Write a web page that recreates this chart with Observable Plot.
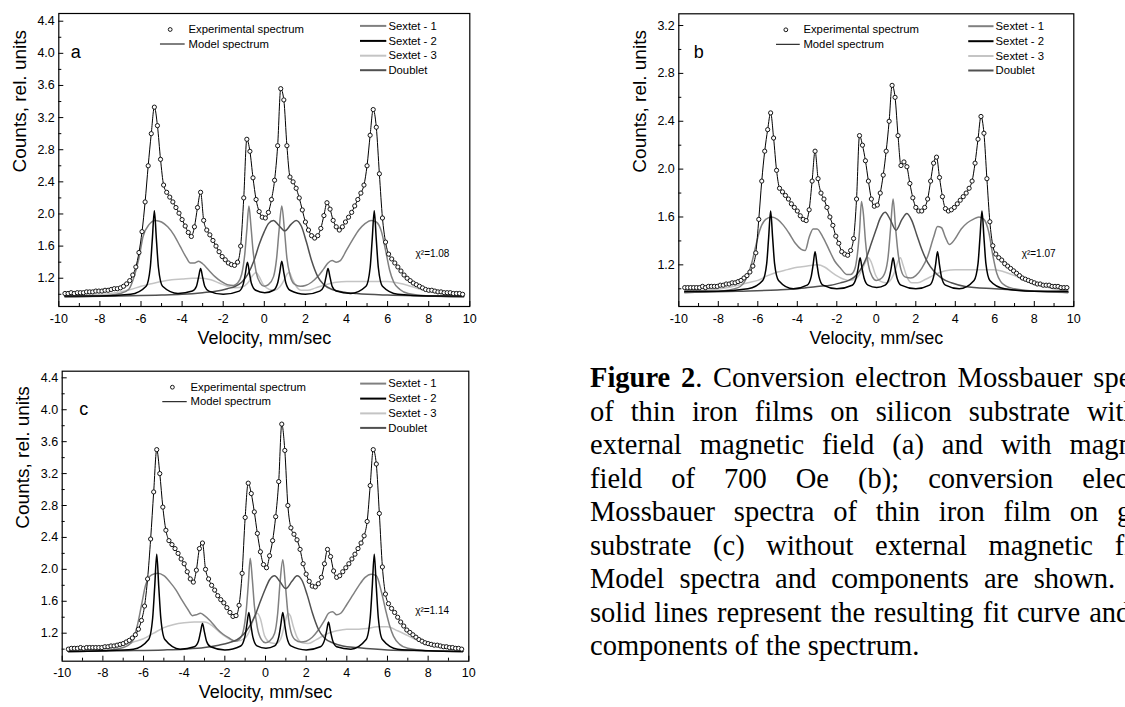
<!DOCTYPE html>
<html>
<head>
<meta charset="utf-8">
<script src="https://cdn.jsdelivr.net/npm/d3@7"></script>
<script src="https://cdn.jsdelivr.net/npm/@observablehq/plot@0.6"></script>
<style>
html,body{margin:0;padding:0;width:1125px;height:707px;overflow:hidden;background:#fff;}
.panel{position:absolute;}
#caption{position:absolute;left:590px;top:361px;width:584px;font-family:"Liberation Serif","Times New Roman",serif;font-size:28.5px;line-height:33.5px;color:#000;}
#caption div{text-align:justify;text-align-last:justify;}
#caption div.last{text-align:left;text-align-last:left;}
</style>
</head>
<body>
<div id="pa" class="panel" style="left:0px;top:0px"></div>
<div id="pb" class="panel" style="left:620px;top:0px"></div>
<div id="pc" class="panel" style="left:0px;top:357px"></div>
<div id="caption"></div>
<script>
// ---------- data ----------
const velocityStart = -9.7, velocityStep = 0.15;   // channel velocities of the experimental points

const expA = [1.01,1.01,1.02,1.01,1.02,1.02,1.02,1.03,1.03,1.03,
1.04,1.04,1.04,1.05,1.05,1.06,1.07,1.07,1.08,1.1,
1.13,1.17,1.24,1.34,1.52,1.78,2.15,2.6,3.0,3.33,
3.1,2.68,2.36,2.27,2.21,2.15,2.08,2.01,1.93,1.85,
1.77,1.72,1.84,2.08,2.27,1.92,1.8,1.74,1.67,1.6,
1.53,1.47,1.43,1.39,1.37,1.36,1.4,1.6,2.2,2.93,
2.78,2.45,2.18,2.03,1.96,1.95,2.02,2.18,2.42,2.85,
3.56,3.42,2.85,2.46,2.4,2.32,2.2,2.05,1.9,1.8,
1.73,1.7,1.73,1.82,1.98,2.14,2.06,1.92,1.84,1.8,
1.84,1.9,1.96,2.02,2.1,2.18,2.26,2.36,2.6,2.98,
3.3,3.08,2.5,1.95,1.65,1.5,1.44,1.39,1.34,1.29,
1.24,1.2,1.17,1.14,1.12,1.1,1.08,1.06,1.05,1.05,
1.04,1.03,1.03,1.02,1.02,1.02,1.01,1.01,1.01,1.0];

const expB = [1.01,1.01,1.01,1.01,1.01,1.01,1.02,1.01,1.02,1.02,
1.02,1.02,1.03,1.03,1.04,1.04,1.05,1.05,1.06,1.07,
1.09,1.11,1.14,1.19,1.3,1.58,1.9,2.15,2.33,2.47,
2.26,1.99,1.84,1.81,1.78,1.75,1.71,1.68,1.65,1.61,
1.58,1.57,1.66,1.9,2.15,1.92,1.8,1.75,1.68,1.6,
1.53,1.44,1.38,1.31,1.29,1.28,1.32,1.42,1.75,2.28,
2.2,2.07,1.9,1.75,1.69,1.7,1.8,1.95,2.15,2.4,
2.7,2.6,2.28,2.03,2.06,2.02,1.88,1.76,1.68,1.65,
1.65,1.68,1.75,1.9,2.05,2.1,1.93,1.77,1.67,1.65,
1.66,1.68,1.71,1.74,1.77,1.8,1.84,1.9,2.05,2.25,
2.44,2.3,1.92,1.56,1.36,1.29,1.26,1.24,1.21,1.19,
1.17,1.15,1.13,1.11,1.09,1.08,1.07,1.06,1.05,1.04,
1.04,1.03,1.03,1.03,1.02,1.02,1.02,1.01,1.01,1.01];

const expC = [1.0,1.01,1.01,1.01,1.02,1.01,1.02,1.02,1.02,1.02,
1.02,1.02,1.03,1.03,1.04,1.04,1.05,1.06,1.07,1.09,
1.11,1.14,1.18,1.25,1.36,1.54,1.88,2.38,2.97,3.5,
3.2,2.78,2.49,2.36,2.31,2.26,2.2,2.13,2.07,1.97,
1.88,1.84,1.99,2.26,2.33,2.0,1.88,1.8,1.74,1.67,
1.62,1.58,1.52,1.46,1.41,1.42,1.55,1.95,2.65,3.08,
2.95,2.72,2.45,2.22,2.06,2.02,2.17,2.36,2.66,3.1,
3.82,3.49,2.8,2.52,2.44,2.37,2.25,2.07,1.94,1.85,
1.79,1.78,1.82,1.9,2.07,2.25,2.16,1.98,1.9,1.92,
1.97,2.02,2.07,2.13,2.19,2.26,2.33,2.42,2.6,3.05,
3.5,3.32,2.7,2.03,1.69,1.57,1.51,1.46,1.4,1.34,
1.29,1.24,1.21,1.18,1.15,1.12,1.1,1.08,1.07,1.06,
1.05,1.05,1.04,1.03,1.03,1.02,1.02,1.01,1.01,1.0];

// Sextet - 1
const sextet1X = [-9.7,-8,-7,-6.6,-6.3,-6.1,-5.9,-5.6,-5.3,-5.0,-4.7,-4.4,-4.1,-3.8,-3.6,-3.4,-3.2,-3.0,-2.7,-2.4,
-2.1,-1.8,-1.5,-1.3,-1.1,-0.95,-0.85,-0.75,-0.65,-0.55,-0.4,-0.2,0,0.2,0.45,0.6,0.72,0.85,0.98,1.1,
1.25,1.45,1.75,2.0,2.3,2.6,2.9,3.1,3.3,3.5,3.7,4.0,4.3,4.6,4.9,5.2,5.45,5.7,5.9,6.1,6.3,6.6,7.0,8,9.7];
const sextet1A = [0.97,0.98,1.01,1.06,1.25,1.45,1.72,1.87,1.92,1.9,1.84,1.74,1.6,1.46,1.39,1.39,1.41,1.38,1.3,1.22,
1.16,1.12,1.11,1.14,1.25,1.5,1.8,2.1,1.85,1.55,1.28,1.14,1.1,1.12,1.22,1.45,1.8,2.1,1.8,1.45,
1.24,1.13,1.1,1.11,1.15,1.22,1.32,1.39,1.42,1.4,1.42,1.55,1.68,1.8,1.88,1.92,1.9,1.78,1.55,1.3,1.15,1.06,1.01,0.98,0.97];
const sextet1B = [0.97,0.98,1.01,1.08,1.22,1.36,1.49,1.58,1.6,1.58,1.53,1.46,1.38,1.33,1.32,1.43,1.5,1.5,1.43,1.33,
1.23,1.17,1.12,1.12,1.16,1.3,1.48,1.73,1.62,1.4,1.2,1.1,1.07,1.08,1.14,1.27,1.5,1.75,1.5,1.3,
1.16,1.1,1.09,1.11,1.17,1.27,1.43,1.52,1.51,1.43,1.37,1.42,1.5,1.55,1.58,1.6,1.58,1.47,1.28,1.13,1.06,1.02,1.0,0.98,0.97];
const sextet1C = [0.97,0.98,1.02,1.08,1.3,1.55,1.8,1.93,1.95,1.92,1.84,1.74,1.61,1.49,1.42,1.43,1.45,1.42,1.35,1.26,
1.19,1.14,1.1,1.12,1.22,1.48,1.8,2.14,1.88,1.55,1.27,1.12,1.08,1.1,1.2,1.45,1.85,2.12,1.8,1.45,
1.22,1.12,1.09,1.1,1.15,1.24,1.36,1.45,1.47,1.43,1.45,1.56,1.68,1.8,1.9,1.94,1.92,1.72,1.5,1.3,1.16,1.06,1.01,0.98,0.97];

// Sextet - 2
const sextet2X = [-9.7,-8,-6.5,-5.75,-5.55,-5.45,-5.35,-5.25,-5.15,-4.95,-4.2,
-3.5,-3.3,-3.2,-3.1,-3.0,-2.9,-2.7,-2.0,
-1.22,-1.02,-0.92,-0.82,-0.72,-0.62,-0.42,0.02,
0.45,0.65,0.75,0.85,0.95,1.05,1.25,2.0,
2.7,2.9,3.0,3.1,3.2,3.3,3.5,4.2,
4.95,5.15,5.25,5.35,5.45,5.55,5.75,6.5,8,9.7];
const sextet2A = [0.98,0.98,1.0,1.1,1.33,1.68,2.04,1.68,1.33,1.1,1.01,
1.04,1.1,1.21,1.32,1.21,1.1,1.04,1.0,
1.04,1.13,1.26,1.4,1.26,1.13,1.05,1.02,
1.05,1.14,1.27,1.41,1.27,1.14,1.05,1.0,
1.04,1.1,1.21,1.32,1.21,1.1,1.04,1.01,
1.1,1.33,1.68,2.04,1.68,1.33,1.1,1.0,0.98,0.98];
const sextet2B = [0.98,0.98,1.0,1.07,1.21,1.43,1.65,1.43,1.21,1.07,1.0,
1.03,1.1,1.2,1.31,1.2,1.1,1.03,1.0,
1.03,1.09,1.17,1.26,1.17,1.09,1.03,1.01,
1.03,1.09,1.17,1.26,1.17,1.09,1.03,1.0,
1.03,1.1,1.2,1.31,1.2,1.1,1.03,1.0,
1.07,1.21,1.43,1.65,1.43,1.21,1.07,1.0,0.98,0.98];
const sextet2C = [0.97,0.98,1.0,1.12,1.39,1.78,2.19,1.78,1.39,1.12,1.0,
1.03,1.1,1.21,1.32,1.21,1.1,1.03,0.99,
1.04,1.15,1.3,1.46,1.3,1.15,1.04,1.01,
1.04,1.15,1.3,1.46,1.3,1.15,1.04,0.99,
1.03,1.11,1.22,1.34,1.22,1.11,1.03,1.0,
1.12,1.39,1.78,2.19,1.78,1.39,1.12,1.0,0.98,0.97];

// Sextet - 3
const sextet3X = [-9.7,-8.5,-7.5,-7,-6.5,-6,-5.5,-5,-4.5,-4,-3.5,-3,-2.6,-2.2,-1.8,-1.4,-1.0,-0.75,-0.55,-0.4,
-0.25,-0.05,0.25,0.5,0.75,0.95,1.1,1.22,1.35,1.55,1.8,2.1,2.5,3,3.5,4,4.5,5,5.5,6,6.5,7,7.5,8,8.5,9,9.7];
const sextet3A = [0.98,0.99,1.01,1.03,1.06,1.1,1.13,1.16,1.18,1.19,1.2,1.2,1.18,1.14,1.1,1.08,1.1,1.16,1.24,1.27,
1.22,1.12,1.06,1.05,1.09,1.17,1.25,1.27,1.2,1.1,1.05,1.05,1.08,1.12,1.15,1.16,1.16,1.16,1.16,1.16,1.14,1.11,1.07,1.04,1.02,1.0,0.98];
const sextet3B = [0.98,0.99,1.01,1.03,1.05,1.07,1.11,1.14,1.16,1.18,1.19,1.2,1.18,1.13,1.09,1.07,1.09,1.15,1.22,1.26,
1.22,1.12,1.06,1.05,1.08,1.15,1.23,1.26,1.2,1.1,1.05,1.05,1.08,1.12,1.15,1.16,1.16,1.16,1.16,1.16,1.14,1.11,1.07,1.04,1.02,1.0,0.98];
const sextet3C = [0.98,0.99,1.02,1.05,1.09,1.13,1.2,1.27,1.31,1.33,1.34,1.34,1.29,1.2,1.13,1.1,1.14,1.25,1.4,1.45,
1.38,1.17,1.08,1.07,1.13,1.32,1.45,1.42,1.3,1.15,1.08,1.07,1.12,1.19,1.23,1.25,1.25,1.26,1.28,1.28,1.23,1.17,1.11,1.07,1.04,1.01,0.99];

// Doublet
const doubletX = [-9.7,-7,-5,-4,-3,-2.3,-1.8,-1.4,-1.1,-0.8,-0.5,-0.25,0,0.2,0.45,0.7,1.0,1.3,1.55,1.8,2.05,2.3,2.6,2.9,3.3,3.8,4.5,6,8,9.7];
const doubletA = [0.97,0.98,0.99,1.0,1.02,1.04,1.07,1.1,1.15,1.25,1.42,1.62,1.78,1.88,1.92,1.86,1.79,1.87,1.92,1.85,1.65,1.42,1.22,1.12,1.06,1.03,1.01,0.99,0.98,0.97];
const doubletB = [0.97,0.98,0.99,1.0,1.02,1.03,1.05,1.07,1.1,1.16,1.26,1.38,1.5,1.59,1.64,1.58,1.49,1.58,1.63,1.57,1.45,1.33,1.22,1.15,1.09,1.05,1.02,1.0,0.98,0.97];
const doubletC = [0.97,0.98,0.99,1.0,1.02,1.05,1.08,1.12,1.18,1.28,1.43,1.6,1.76,1.87,1.92,1.85,1.76,1.85,1.92,1.86,1.68,1.46,1.25,1.14,1.08,1.04,1.02,0.99,0.98,0.97];

// ticks, labels
const xMajorTicks = [-10,-8,-6,-4,-2,0,2,4,6,8,10];
const xMinorTicks = [-9,-7,-5,-3,-1,1,3,5,7,9];
const yMajorTicksAC = [1.2,1.6,2.0,2.4,2.8,3.2,3.6,4.0,4.4];
const yMinorTicksAC = [1.0,1.4,1.8,2.2,2.6,3.0,3.4,3.8,4.2];
const yMajorTicksB = [1.2,1.6,2.0,2.4,2.8,3.2];
const yMinorTicksB = [1.0,1.4,1.8,2.2,2.6,3.0];
const legendLeftLabels = ["Experimental spectrum", "Model spectrum"];
const componentLabels = ["Sextet - 1", "Sextet - 2", "Sextet - 3", "Doublet"];
const panelLetters = ["a", "b", "c"];
const chiLabels = ["χ²=1.08", "χ²=1.07", "χ²=1.14"];
const xAxisTitle = "Velocity, mm/sec";
const yAxisTitle = "Counts, rel. units";

const captionLines = [
  "<b>Figure 2</b>. Conversion electron Mossbauer spectra",
  "of thin iron films on silicon substrate without",
  "external magnetic field (a) and with magnetic",
  "field of 700 Oe (b); conversion electron",
  "Mossbauer spectra of thin iron film on glass",
  "substrate (c) without external magnetic field.",
  "Model spectra and components are shown. The",
  "solid lines represent the resulting fit curve and the",
  "components of the spectrum."
];

// ---------- drawing ----------
const compColors = ["#808080", "#000000", "#c4c4c4", "#505050"];
const font = "'Liberation Sans', Arial, sans-serif";
const zip = (xs, ys) => xs.map((x, i) => ({x, y: ys[i]}));

function makePanel(p) {
  const fw = p.width - p.ml - p.mr, fh = p.height - p.mt - p.mb;
  const [y0, y1] = p.yDomain;
  const X = px => -10 + px / fw * 20;
  const Y = py => y1 - py / fh * (y1 - y0);
  const perPxY = (y1 - y0) / fh, perPxX = 20 / fw;
  const expData = p.exp.map((v, i) => ({x: velocityStart + velocityStep * i, y: v}));
  const comps = [
    {data: zip(sextet3X, p.s3), color: compColors[2]},
    {data: zip(sextet1X, p.s1), color: compColors[0]},
    {data: zip(doubletX, p.d), color: compColors[3]},
    {data: zip(sextet2X, p.s2), color: compColors[1]}
  ];
  const rowsR = [12.4, 27.4, 42.2, 56.7];
  const legendLines = componentLabels.map((t, i) => ({x1: X(0.734 * fw), x2: X(0.798 * fw), y: Y(rowsR[i]), color: compColors[i], t, tx: X(0.802 * fw)}));
  const marks = [
    ...comps.map(c => Plot.line(c.data, {x: "x", y: "y", stroke: c.color, strokeWidth: 1.5, curve: "monotone-x"})),
    Plot.line(expData, {x: "x", y: "y", stroke: "#000", strokeWidth: 1, curve: "monotone-x"}),
    Plot.dot(expData, {x: "x", y: "y", r: 2.1, stroke: "#151515", strokeWidth: 1, fill: "#fff"}),
    Plot.frame({stroke: "#000", strokeWidth: 1.2}),
    Plot.ruleX(xMajorTicks, {x: d => d, y1: y0, y2: y0 + 5 * perPxY, stroke: "#000", strokeWidth: 1}),
    Plot.ruleX(xMinorTicks, {x: d => d, y1: y0, y2: y0 + 3 * perPxY, stroke: "#000", strokeWidth: 1}),
    Plot.ruleY(p.yMajor, {y: d => d, x1: -10, x2: -10 + 5 * perPxX, stroke: "#000", strokeWidth: 1}),
    Plot.ruleY(p.yMinor, {y: d => d, x1: -10, x2: -10 + 3 * perPxX, stroke: "#000", strokeWidth: 1}),
    Plot.text(xMajorTicks, {x: d => d, y: y0, dy: 12, text: d => String(d), fontSize: 12.5, fill: "#000"}),
    Plot.text(p.yMajor, {x: -10, y: d => d, dx: -4, text: d => d.toFixed(1), textAnchor: "end", fontSize: 12.5, fill: "#000"}),
    Plot.text([xAxisTitle], {frameAnchor: "bottom", dy: 37, text: d => d, fontSize: 18, fill: "#000"}),
    Plot.text([yAxisTitle], {frameAnchor: "left", dx: -39, dy: 12.5, rotate: -90, text: d => d, fontSize: 19, fill: "#000"}),
    // legend, left block
    Plot.dot([{x: X(0.271 * fw), y: Y(16)}], {x: "x", y: "y", r: 1.9, stroke: "#151515", strokeWidth: 1, fill: "#fff"}),
    Plot.ruleY([{y: Y(30.5), x1: X(0.2474 * fw), x2: X(0.3075 * fw)}], {y: "y", x1: "x1", x2: "x2", stroke: "#000", strokeWidth: 1}),
    Plot.text([{x: X(0.3155 * fw), y: Y(16), t: legendLeftLabels[0]}, {x: X(0.3155 * fw), y: Y(30.5), t: legendLeftLabels[1]}],
      {x: "x", y: "y", text: "t", textAnchor: "start", fontSize: 11.3, fill: "#000"}),
    // legend, components
    Plot.ruleY(legendLines, {y: "y", x1: "x1", x2: "x2", stroke: "color", strokeWidth: 2}),
    Plot.text(legendLines, {x: "tx", y: "y", text: "t", textAnchor: "start", fontSize: 11.3, fill: "#000"}),
    // panel letter and chi-square
    Plot.text([p.letter], {frameAnchor: "top-left", dx: p.letterDx, dy: 31.5, text: d => d, fontSize: 18, textAnchor: "middle", fill: "#000"}),
    Plot.text([p.chi], {frameAnchor: "top-left", dx: 0.868 * fw, dy: 236, text: d => d, fontSize: 10, textAnchor: "start", fill: "#000"})
  ];
  const svg = Plot.plot({
    width: p.width, height: p.height,
    marginLeft: p.ml, marginRight: p.mr, marginTop: p.mt, marginBottom: p.mb,
    x: {domain: [-10, 10], axis: null},
    y: {domain: p.yDomain, axis: null},
    style: {fontFamily: font, background: "transparent", overflow: "visible", color: "#000"},
    marks
  });
  document.getElementById(p.el).appendChild(svg);
}

makePanel({el: "pa", width: 480, height: 345, ml: 58.3, mr: 10.7, mt: 13, mb: 39, yDomain: [0.848, 4.496],
  yMajor: yMajorTicksAC, yMinor: yMinorTicksAC, exp: expA, s1: sextet1A, s2: sextet2A, s3: sextet3A, d: doubletA,
  letter: panelLetters[0], letterDx: 17, chi: chiLabels[0]});
makePanel({el: "pb", width: 465, height: 345, ml: 58.3, mr: 11.7, mt: 13.3, mb: 39, yDomain: [0.852, 3.298],
  yMajor: yMajorTicksB, yMinor: yMinorTicksB, exp: expB, s1: sextet1B, s2: sextet2B, s3: sextet3B, d: doubletB,
  letter: panelLetters[1], letterDx: 20, chi: chiLabels[1]});
makePanel({el: "pc", width: 480, height: 350, ml: 61.7, mr: 11.7, mt: 13.7, mb: 46.3, yDomain: [0.849, 4.483],
  yMajor: yMajorTicksAC, yMinor: yMinorTicksAC, exp: expC, s1: sextet1C, s2: sextet2C, s3: sextet3C, d: doubletC,
  letter: panelLetters[2], letterDx: 21.6, chi: chiLabels[2]});

const cap = document.getElementById("caption");
captionLines.forEach((l, i) => {
  const div = document.createElement("div");
  div.innerHTML = l;
  if (i === captionLines.length - 1) div.className = "last";
  cap.appendChild(div);
});
</script>
</body>
</html>
